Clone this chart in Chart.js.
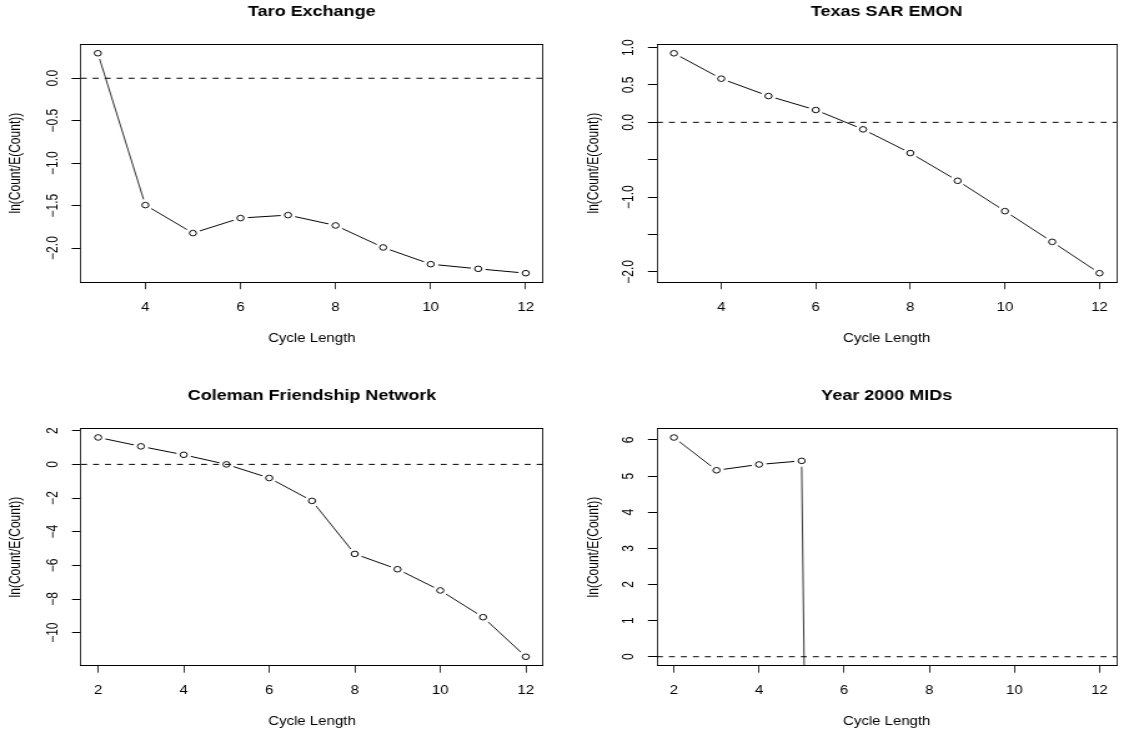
<!DOCTYPE html>
<html>
<head>
<meta charset="utf-8">
<script src="https://cdn.jsdelivr.net/npm/chart.js@4.4.1/dist/chart.umd.min.js"></script>
<style>
html,body{margin:0;padding:0;background:#fff;}
#wrap{position:relative;width:1124px;height:733px;overflow:hidden;background:#fff;}
canvas{position:absolute;}
</style>
</head>
<body>
<div id="wrap">
<canvas id="c1" width="450" height="366" style="left:0px;top:0px;width:562px;height:366px"></canvas>
<canvas id="c2" width="450" height="366" style="left:562px;top:0px;width:562px;height:366px"></canvas>
<canvas id="c3" width="450" height="367" style="left:0px;top:366px;width:562px;height:367px"></canvas>
<canvas id="c4" width="450" height="367" style="left:562px;top:366px;width:562px;height:367px"></canvas>
</div>
<script>
// ---------------- data ----------------
const taroTitle = 'Taro Exchange';
const taroX = [3, 4, 5, 6, 7, 8, 9, 10, 11, 12];
const taroY = [0.295, -1.494, -1.824, -1.647, -1.612, -1.734, -1.993, -2.190, -2.245, -2.296];
const taroXTicks = [4, 6, 8, 10, 12];
const taroXLabels = ['4', '6', '8', '10', '12'];
const taroYTicks = [-2, -1.5, -1, -0.5, 0];
const taroYLabels = ['\u22122.0', '\u22121.5', '\u22121.0', '\u22120.5', '0.0'];
const taroXRange = [2.64, 12.36];
const taroYRange = [-2.40, 0.40];

const texasTitle = 'Texas SAR EMON';
const texasX = [3, 4, 5, 6, 7, 8, 9, 10, 11, 12];
const texasY = [0.924, 0.584, 0.352, 0.165, -0.094, -0.411, -0.782, -1.188, -1.599, -2.018];
const texasXTicks = [4, 6, 8, 10, 12];
const texasXLabels = ['4', '6', '8', '10', '12'];
const texasYTicks = [-2, -1.5, -1, -0.5, 0, 0.5, 1];
const texasYLabels = ['\u22122.0', '', '\u22121.0', '', '0.0', '0.5', '1.0'];
const texasXRange = [2.64, 12.36];
const texasYRange = [-2.136, 1.044];

const colemanTitle = 'Coleman Friendship Network';
const colemanX = [2, 3, 4, 5, 6, 7, 8, 9, 10, 11, 12];
const colemanY = [1.60, 1.07, 0.57, 0.0, -0.81, -2.17, -5.32, -6.23, -7.49, -9.08, -11.43];
const colemanXTicks = [2, 4, 6, 8, 10, 12];
const colemanXLabels = ['2', '4', '6', '8', '10', '12'];
const colemanYTicks = [-10, -8, -6, -4, -2, 0, 2];
const colemanYLabels = ['\u221210', '\u22128', '\u22126', '\u22124', '\u22122', '0', '2'];
const colemanXRange = [1.6, 12.4];
const colemanYRange = [-11.95, 2.12];

const midsTitle = 'Year 2000 MIDs';
const midsX = [2, 3, 4, 5, 6];
const midsY = [6.066, 5.16, 5.32, 5.42, -90];   // last value: far below the axis (log of ~zero count)
const midsXTicks = [2, 4, 6, 8, 10, 12];
const midsXLabels = ['2', '4', '6', '8', '10', '12'];
const midsYTicks = [0, 1, 2, 3, 4, 5, 6];
const midsYLabels = ['0', '1', '2', '3', '4', '5', '6'];
const midsXRange = [1.6, 12.4];
const midsYRange = [-0.243, 6.31];

const xAxisTitle = 'Cycle Length';
const yAxisTitle = 'ln(Count/E(Count))';
const referenceY = 0;

// ---------------- layout / style ----------------
const FONT = "'Liberation Sans', Arial, Helvetica, sans-serif";
const STRETCH = 562 / 450;          // canvases are drawn at 450px and shown 562px wide
const TICK_LEN = 7.2;
const layouts = {
  c1: {left: 64.6, right: 434.7, top: 44.3, bottom: 282,   titleY: 12.3, yTitleX: 12.9, xTitleY: 338.3},
  c2: {left: 76,   right: 446,   top: 44.3, bottom: 282,   titleY: 12.3, yTitleX: 25.6, xTitleY: 338.3},
  c3: {left: 64.9, right: 434.7, top: 62.7, bottom: 299.5, titleY: 29.7, yTitleX: 12.9, xTitleY: 355.7},
  c4: {left: 76,   right: 446,   top: 62.7, bottom: 299.5, titleY: 29.7, yTitleX: 25.6, xTitleY: 355.7}
};
const TICK_SIZE = 12, LAB_SIZE = 12, MAIN_SIZE = 14.4;

const measurer = document.createElement('canvas').getContext('2d');
function textWidth(s, size) {
  measurer.font = size + 'px ' + FONT;
  return measurer.measureText(s).width;
}
// keep the on-screen thickness of a segment at ~1px despite the horizontal stretch
function segWidth(c) {
  const dx = c.p1.x - c.p0.x, dy = c.p1.y - c.p0.y;
  const len = Math.hypot(dx, dy) || 1;
  const ux = dx / len, uy = dy / len;
  return Math.sqrt(STRETCH * STRETCH * ux * ux + uy * uy) / STRETCH;
}

function makePanel(id, d) {
  const canvas = document.getElementById(id);
  const W = canvas.width, H = canvas.height;
  const L = layouts[id];
  const widest = Math.max(...d.yLabels.map(s => textWidth(s, TICK_SIZE)));
  const yPad = 22 - TICK_LEN - widest / 2;
  const mainLH = MAIN_SIZE * 1.2, labLH = LAB_SIZE * 1.2;
  const pts = d.x.map((x, i) => ({x: x, y: d.y[i]}));
  const refPts = d.xRange.map(x => ({x: x, y: referenceY}));
  const vBorder = 1 / STRETCH;

  new Chart(canvas, {
    type: 'scatter',
    data: {
      datasets: [
        { // open circles (drawn on top)
          data: pts, showLine: false,
          pointRadius: 2.8, pointHoverRadius: 2.8,
          pointBorderColor: '#000', pointBackgroundColor: 'rgba(0,0,0,0)', pointBorderWidth: 0.95
        },
        { // dashed reference line at zero
          data: refPts, showLine: true, borderColor: '#000', borderWidth: 1,
          borderDash: [4.8, 4.8], pointRadius: 0, pointHoverRadius: 0
        },
        { // connecting line with gaps around the points (type "b")
          data: pts, showLine: true, borderColor: '#000', borderWidth: 1, tension: 0,
          segment: {borderWidth: segWidth},
          pointRadius: 6, pointHoverRadius: 6, pointBackgroundColor: '#fff',
          pointBorderColor: '#fff', pointBorderWidth: 0
        }
      ]
    },
    options: {
      responsive: false, animation: false, devicePixelRatio: 1,
      events: [],
      layout: {padding: {left: 0, top: 0, bottom: 0, right: W - L.right}},
      plugins: {
        legend: {display: false},
        tooltip: {enabled: false},
        title: {
          display: true, text: d.title, color: '#000', fullSize: false,
          font: {family: FONT, size: MAIN_SIZE, weight: 'bold'},
          padding: {top: L.titleY - mainLH / 2, bottom: L.top - L.titleY - mainLH / 2}
        }
      },
      scales: {
        x: {
          type: 'linear', position: 'bottom', min: d.xRange[0], max: d.xRange[1],
          afterBuildTicks: s => { s.ticks = d.xTicks.map(v => ({value: v})); },
          afterFit: s => { s.height = H - L.bottom; },
          ticks: {font: {family: FONT, size: TICK_SIZE}, color: '#000', padding: 11,
                  autoSkip: false, maxRotation: 0, minRotation: 0,
                  callback: (v, i) => d.xLabels[i]},
          grid: {display: true, drawOnChartArea: false, drawTicks: true, tickLength: TICK_LEN,
                 tickColor: '#000', tickWidth: vBorder, color: '#000'},
          border: {display: true, color: '#000', width: 1},
          title: {display: true, text: xAxisTitle, color: '#000',
                  font: {family: FONT, size: LAB_SIZE},
                  padding: {top: 0, bottom: H - labLH / 2 - L.xTitleY}}
        },
        y: {
          type: 'linear', position: 'left', min: d.yRange[0], max: d.yRange[1],
          afterBuildTicks: s => { s.ticks = d.yTicks.map(v => ({value: v})); },
          afterFit: s => { s.width = L.left; },
          ticks: {font: {family: FONT, size: TICK_SIZE}, color: '#000', padding: yPad,
                  autoSkip: false, minRotation: 90, maxRotation: 90, crossAlign: 'center',
                  callback: (v, i) => d.yLabels[i]},
          grid: {display: true, drawOnChartArea: false, drawTicks: true, tickLength: TICK_LEN,
                 tickColor: '#000', tickWidth: 1, color: '#000'},
          border: {display: true, color: '#000', width: vBorder},
          title: {display: true, text: yAxisTitle, color: '#000',
                  font: {family: FONT, size: LAB_SIZE},
                  padding: {top: L.yTitleX - labLH / 2, bottom: 0}}
        },
        xTop: {
          type: 'linear', position: 'top', display: true,
          ticks: {display: false},
          grid: {display: true, drawOnChartArea: false, drawTicks: false},
          border: {display: true, color: '#000', width: 1},
          afterFit: s => { s.height = 0; }
        },
        yRight: {
          type: 'linear', position: 'right', display: true,
          ticks: {display: false},
          grid: {display: true, drawOnChartArea: false, drawTicks: false},
          border: {display: true, color: '#000', width: vBorder},
          afterFit: s => { s.width = 0; }
        }
      }
    }
  });
}

makePanel('c1', {title: taroTitle, x: taroX, y: taroY, xTicks: taroXTicks, xLabels: taroXLabels,
  yTicks: taroYTicks, yLabels: taroYLabels, xRange: taroXRange, yRange: taroYRange});
makePanel('c2', {title: texasTitle, x: texasX, y: texasY, xTicks: texasXTicks, xLabels: texasXLabels,
  yTicks: texasYTicks, yLabels: texasYLabels, xRange: texasXRange, yRange: texasYRange});
makePanel('c3', {title: colemanTitle, x: colemanX, y: colemanY, xTicks: colemanXTicks, xLabels: colemanXLabels,
  yTicks: colemanYTicks, yLabels: colemanYLabels, xRange: colemanXRange, yRange: colemanYRange});
makePanel('c4', {title: midsTitle, x: midsX, y: midsY, xTicks: midsXTicks, xLabels: midsXLabels,
  yTicks: midsYTicks, yLabels: midsYLabels, xRange: midsXRange, yRange: midsYRange});
</script>
</body>
</html>
